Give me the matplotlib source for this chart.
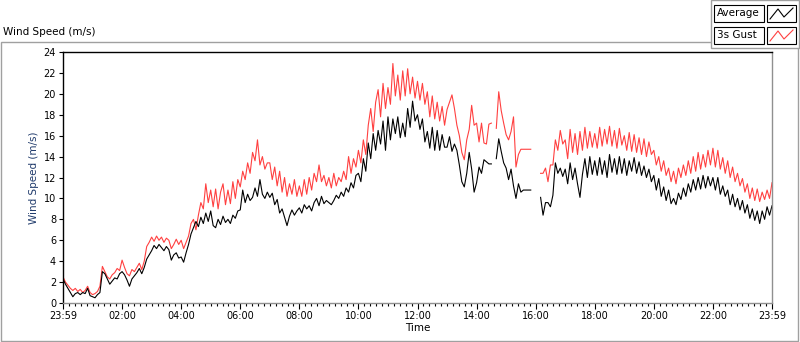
import numpy as np
import matplotlib.pyplot as plt
from matplotlib.patches import Rectangle
from matplotlib.lines import Line2D

nan = np.nan

# 5 minute samples, 12 per hour, hours 0..23 plus the final 24:00 value
average = [
    2.3, 1.8, 1.4, 1.0, 0.6, 0.9, 1.0, 0.8, 1.0, 0.9, 1.4, 0.7,
    0.6, 0.5, 0.8, 1.0, 3.0, 2.8, 2.3, 1.8, 2.1, 2.4, 2.3, 2.8,
    3.0, 2.7, 2.2, 1.6, 2.3, 2.6, 2.9, 3.3, 2.8, 3.4, 4.2, 4.6,
    5.0, 5.5, 5.2, 5.6, 5.3, 5.0, 5.4, 5.1, 4.1, 4.6, 4.8, 4.3,
    4.4, 3.9, 4.8, 5.6, 6.6, 7.2, 7.8, 7.3, 8.2, 7.6, 8.6, 7.8,
    8.8, 7.4, 7.2, 8.0, 7.5, 8.3, 7.7, 8.0, 7.6, 8.4, 8.1, 8.8,
    8.9, 10.8, 9.6, 10.4, 9.8, 10.1, 11.0, 10.2, 11.8, 10.4, 10.0, 10.6,
    10.1, 10.5, 9.4, 9.9, 8.6, 9.0, 8.2, 7.4, 8.3, 8.9, 8.4, 8.8,
    9.1, 8.6, 9.4, 9.0, 9.3, 8.8, 9.6, 10.0, 9.3, 10.2, 9.5, 9.8,
    9.6, 9.4, 9.8, 10.3, 10.0, 10.6, 10.2, 11.0, 10.6, 11.5, 11.0, 12.2,
    12.4, 11.6, 13.8, 12.6, 15.3, 13.8, 16.2, 14.6, 16.5, 15.2, 17.4, 14.6,
    17.8, 15.6, 17.6, 16.2, 17.8, 15.8, 17.2, 15.9, 18.6, 16.8, 19.3, 17.4,
    18.0, 16.6, 17.6, 15.4, 16.4, 14.8, 16.8, 14.6, 16.5, 14.6, 16.1, 14.9,
    14.9, 15.9, 14.5, 15.2, 14.6, 13.2, 11.6, 11.1, 12.4, 14.4, 12.8, 10.6,
    11.5, 13.0, 12.4, 13.7, 13.5, 13.3, 13.3, nan, 13.8, 15.7, 14.5, 13.4,
    12.9, 11.8, 12.8, 11.2, 10.0, 11.4, 10.6, 10.8, 10.8, 10.8, 10.8, nan,
    nan, nan, 10.1, 8.4, 9.6, 9.6, 9.2, 10.3, 13.4, 12.4, 12.9, 12.1,
    12.8, 11.4, 13.4, 11.8, 12.9, 11.4, 10.1, 12.3, 13.8, 12.0, 14.0, 12.3,
    13.6, 12.2, 13.9, 12.3, 13.6, 12.0, 14.2, 12.5, 13.8, 12.3, 14.0, 12.4,
    13.8, 12.2, 13.6, 12.6, 13.9, 12.4, 13.5, 12.2, 13.1, 12.0, 12.8, 11.6,
    12.2, 10.8, 11.9, 10.2, 11.1, 9.8, 10.8, 9.5, 10.0, 9.4, 10.5, 9.9,
    11.0, 10.2, 11.4, 10.6, 11.8, 10.8, 12.0, 10.9, 12.2, 11.0, 12.1, 11.2,
    12.0, 10.8, 12.0, 10.4, 11.2, 10.2, 10.8, 9.4, 10.4, 9.2, 10.0, 8.9,
    9.8, 8.6, 9.4, 8.1, 9.0, 7.9, 8.8, 7.6, 8.8, 8.0, 9.2, 8.4,
    9.3,
]

gust = [
    2.5, 2.0, 1.7, 1.4, 1.2, 1.4, 1.1, 1.3, 1.0, 1.2, 1.6, 1.0,
    0.8, 0.9, 1.1, 1.6, 3.5, 3.0, 2.5, 2.3, 2.7, 2.9, 3.3, 3.1,
    4.1, 3.4, 2.8, 2.6, 3.2, 3.0, 3.4, 3.8, 3.2, 4.0, 5.4, 5.8,
    6.3, 5.9, 6.4, 6.0, 6.3, 5.8, 6.2, 6.0, 5.2, 5.6, 6.1, 5.6,
    6.0, 5.2, 5.8, 6.4, 7.6, 8.0, 7.0, 8.4, 9.6, 9.0, 11.4, 9.6,
    10.8, 9.2, 10.9, 9.0, 10.6, 11.4, 9.4, 10.8, 9.5, 11.6, 10.0, 11.8,
    11.1, 12.6, 11.8, 13.4, 12.4, 14.4, 13.6, 15.6, 13.2, 14.0, 12.8, 13.4,
    13.4, 11.8, 13.0, 11.2, 12.6, 10.6, 12.0, 10.2, 11.4, 10.4, 11.8, 10.2,
    11.2, 10.2, 11.8, 10.4, 12.0, 10.8, 12.4, 11.6, 13.2, 11.6, 12.2, 11.2,
    12.0, 11.0, 12.4, 11.2, 12.0, 11.6, 12.6, 11.8, 14.0, 12.4, 13.8, 13.0,
    14.6, 13.4, 15.6, 14.2, 17.0, 18.6, 16.4, 19.2, 20.4, 17.8, 21.0, 18.6,
    20.6, 19.0, 22.9, 19.8, 21.8, 19.4, 22.2, 19.8, 22.4, 20.0, 21.6, 19.6,
    21.2, 19.4, 21.0, 19.0, 20.2, 17.8, 19.8, 17.6, 19.2, 17.4, 18.8, 17.0,
    18.5, 19.2, 19.9, 18.6, 17.0, 16.0, 14.4, 13.7, 15.6, 16.6, 18.9, 17.0,
    17.2, 15.4, 17.2, 15.3, 15.2, 17.1, 17.2, nan, 16.7, 20.2, 18.4, 17.2,
    16.1, 15.6, 16.4, 17.8, 13.0, 14.2, 14.7, 14.7, 14.7, 14.7, 14.7, nan,
    nan, nan, 12.4, 12.4, 12.9, 11.6, 13.2, 13.2, 15.6, 14.6, 16.5, 15.2,
    15.6, 13.8, 16.6, 14.4, 16.2, 14.2, 16.4, 14.6, 16.8, 14.8, 16.4, 14.9,
    16.2, 14.8, 16.8, 15.0, 16.6, 15.2, 16.9, 15.0, 16.5, 14.8, 16.7, 15.1,
    16.0, 14.6, 16.3, 14.5, 16.1, 14.4, 15.8, 14.2, 15.7, 14.0, 15.4, 14.2,
    14.6, 13.2, 14.0, 12.6, 13.6, 12.2, 12.9, 11.6, 12.6, 11.4, 12.9, 12.0,
    13.2, 12.2, 13.6, 12.4, 14.0, 12.6, 14.4, 12.8, 14.2, 13.0, 14.6, 13.2,
    14.8, 13.0, 14.6, 12.8, 13.9, 12.4, 13.6, 12.0, 13.0, 11.6, 12.4, 11.2,
    11.9, 10.6, 11.4, 10.0, 11.0, 9.8, 10.9, 9.7, 10.6, 9.9, 10.8, 10.0,
    11.5,
]

hours = np.arange(len(average)) * 5 / 60.0
tick_hours = [0, 2, 4, 6, 8, 10, 12, 14, 16, 18, 20, 22, 24]
tick_labels = ['23:59', '02:00', '04:00', '06:00', '08:00', '10:00', '12:00',
               '14:00', '16:00', '18:00', '20:00', '22:00', '23:59']
y_ticks = list(range(0, 25, 2))

plt.rcParams['font.family'] = ['DejaVu Sans']
W, H = 800, 342


def fx(x):
    return x / W


def fy(y):
    return 1 - y / H


fig = plt.figure(figsize=(8, 3.42), dpi=100)
fig.patch.set_facecolor('white')

# outer chart frame
fig.patches.append(Rectangle((fx(1), fy(341)), fx(797), (341 - 42) / H,
                             transform=fig.transFigure, fill=False,
                             edgecolor='#a0a0a0', lw=1))

ax = fig.add_axes([fx(63), fy(303), fx(772 - 63), (303 - 52) / H])
ax.plot(hours, gust, color='#ff4040', lw=0.8)
ax.plot(hours, average, color='black', lw=0.8)

ax.set_xlim(0, 24)
ax.set_ylim(0, 24)
ax.set_xticks(tick_hours)
ax.set_xticklabels(tick_labels)
ax.set_xticks(np.arange(0, 24.01, 0.2), minor=True)
ax.set_yticks(y_ticks)
ax.tick_params(axis='both', labelsize=7, direction='out', pad=2)
ax.tick_params(axis='x', which='major', length=4, width=0.8)
ax.tick_params(axis='x', which='minor', length=2, width=0.8)
ax.tick_params(axis='y', length=3, width=0.8)
ax.spines['left'].set_color('black')
ax.spines['top'].set_color('black')
ax.spines['right'].set_color('#909090')
ax.spines['bottom'].set_color('#909090')
for s in ax.spines.values():
    s.set_linewidth(1)
ax.set_xlabel('Time', fontsize=7.5, labelpad=1)
ax.set_ylabel('Wind Speed (m/s)', fontsize=7.5, color='#1f3a6b', labelpad=3)

fig.text(fx(3), fy(32), 'Wind Speed (m/s)', fontsize=7.5, va='center', ha='left')

# legend panel
fig.patches.append(Rectangle((fx(711), fy(48)), fx(799 - 711), 48 / H,
                             transform=fig.transFigure, facecolor='white',
                             edgecolor='#a0a0a0', lw=1, zorder=3))
for i, (name, col) in enumerate([('Average', 'black'), ('3s Gust', '#ff4040')]):
    top = 5 + i * 22
    fig.patches.append(Rectangle((fx(714), fy(top + 17)), fx(50), 17 / H,
                                 transform=fig.transFigure, facecolor='white',
                                 edgecolor='black', lw=0.8, zorder=4))
    fig.text(fx(717), fy(top + 8.5), name, fontsize=7.5, va='center',
             ha='left', zorder=5)
    fig.patches.append(Rectangle((fx(767), fy(top + 17)), fx(29), 17 / H,
                                 transform=fig.transFigure, facecolor='white',
                                 edgecolor='black', lw=0.8, zorder=4))
    zx = [770, 778, 784, 793]
    zy = [top + 14, top + 4, top + 12, top + 3]
    fig.lines.append(Line2D([fx(v) for v in zx], [fy(v) for v in zy],
                            transform=fig.transFigure, color=col, lw=0.8,
                            zorder=5))

fig.savefig('out.png', dpi=100)
